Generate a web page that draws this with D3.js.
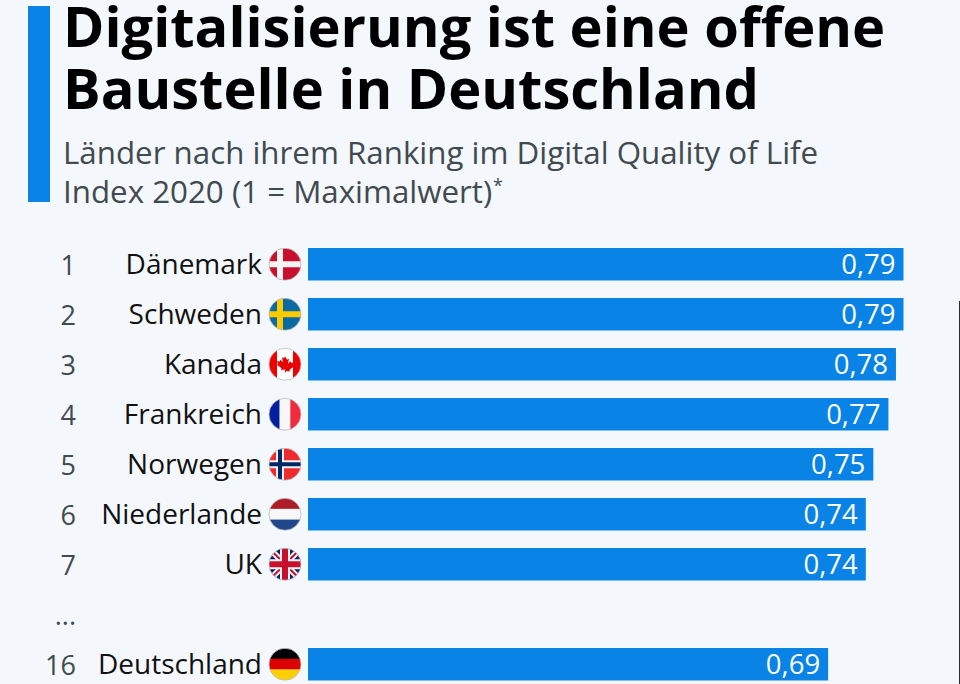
<!DOCTYPE html>
<html>
<head>
<meta charset="utf-8">
<script src="https://cdn.jsdelivr.net/npm/d3@7"></script>
<style>
html, body { margin: 0; padding: 0; background: #f4f8fc; overflow: hidden; }
text { font-family: "Open Sans", sans-serif; }
</style>
</head>
<body>
<div id="chart"></div>
<script>
var ranks = ["1", "2", "3", "4", "5", "6", "7", "...", "16"];
var countries = ["Dänemark", "Schweden", "Kanada", "Frankreich", "Norwegen", "Niederlande", "UK", "", "Deutschland"];
var values = [0.79, 0.79, 0.78, 0.77, 0.75, 0.74, 0.74, null, 0.69];
var flagIds = ["dk", "se", "ca", "fr", "no", "nl", "uk", "", "de"];

var titleLines = ["Digitalisierung ist eine offene", "Baustelle in Deutschland"];
var subtitleLines = ["Länder nach ihrem Ranking im Digital Quality of Life", "Index 2020 (1 = Maximalwert)"];

var width = 960;
var height = 684;
var blue = "#0a83e6";

var svg = d3.select("#chart").append("svg")
	.attr("width", width)
	.attr("height", height)
	.style("display", "block");

svg.append("rect")
	.attr("width", width)
	.attr("height", height)
	.attr("fill", "#f4f8fc");

// dark sliver down the right edge of the picture
svg.append("rect")
	.attr("x", 959)
	.attr("y", 301)
	.attr("width", 1)
	.attr("height", 383)
	.attr("fill", "#2a2c30");

// header
svg.append("rect")
	.attr("x", 28)
	.attr("y", 6)
	.attr("width", 22)
	.attr("height", 196)
	.attr("fill", blue);

svg.selectAll(".title")
	.data(titleLines)
	.enter()
	.append("text")
	.attr("class", "title")
	.attr("x", 63)
	.attr("y", function(d, i) { return 47 + i * 62; })
	.attr("font-size", 56)
	.attr("font-weight", 700)
	.attr("fill", "#000")
	.text(function(d) { return d; });

svg.selectAll(".subtitle")
	.data(subtitleLines)
	.enter()
	.append("text")
	.attr("class", "subtitle")
	.attr("x", 63)
	.attr("y", function(d, i) { return 164 + i * 39; })
	.attr("font-size", 31.3)
	.attr("fill", "#414a4f")
	.text(function(d) { return d; });

svg.append("text")
	.attr("x", 493)
	.attr("y", 192)
	.attr("font-size", 18)
	.attr("fill", "#414a4f")
	.text("*");

// scales
var xScale = d3.scaleLinear()
	.domain([0, 0.79])
	.range([308, 903.5]);

var yScale = d3.scaleBand()
	.domain(ranks)
	.range([239.25, 689.25])
	.paddingInner(0.35)
	.paddingOuter(0.175);

var yMid = function(i) { return yScale(ranks[i]) + yScale.bandwidth() / 2; };

// bars
var rows = ranks.map(function(r, i) {
	return { rank: r, country: countries[i], value: values[i], flag: flagIds[i], i: i };
});

svg.selectAll(".bar")
	.data(rows.filter(function(d) { return d.value !== null; }))
	.enter()
	.append("rect")
	.attr("class", "bar")
	.attr("x", xScale(0))
	.attr("y", function(d) { return yScale(d.rank); })
	.attr("width", function(d) { return xScale(d.value) - xScale(0); })
	.attr("height", yScale.bandwidth())
	.attr("fill", blue);

svg.selectAll(".val")
	.data(rows.filter(function(d) { return d.value !== null; }))
	.enter()
	.append("text")
	.attr("class", "val")
	.attr("x", function(d) { return xScale(d.value) - 8; })
	.attr("y", function(d) { return yMid(d.i) + 9.5; })
	.attr("text-anchor", "end")
	.attr("font-size", 27.5)
	.attr("fill", "#fff")
	.text(function(d) { return d3.format(".2f")(d.value).replace(".", ","); });

svg.selectAll(".rank")
	.data(rows)
	.enter()
	.append("text")
	.attr("class", "rank")
	.attr("x", 76)
	.attr("y", function(d) { return yMid(d.i) + 10.5; })
	.attr("text-anchor", "end")
	.attr("font-size", 27)
	.attr("fill", "#414a4f")
	.text(function(d) { return d.rank; });

svg.selectAll(".country")
	.data(rows)
	.enter()
	.append("text")
	.attr("class", "country")
	.attr("x", 262)
	.attr("y", function(d) { return yMid(d.i) + 9.5; })
	.attr("text-anchor", "end")
	.attr("font-size", 28)
	.attr("fill", "#111")
	.text(function(d) { return d.country; });

// flags, drawn in a 0-32 box and clipped to a circle
var defs = svg.append("defs");
defs.append("clipPath").attr("id", "flagClip")
	.append("circle").attr("cx", 16).attr("cy", 16).attr("r", 16);

function stripes(g, colors, vertical) {
	var n = colors.length;
	colors.forEach(function(c, i) {
		g.append("rect")
			.attr("x", vertical ? i * 32 / n : 0)
			.attr("y", vertical ? 0 : i * 32 / n)
			.attr("width", vertical ? 32 / n : 32)
			.attr("height", vertical ? 32 : 32 / n)
			.attr("fill", c);
	});
}

function nordic(g, bg, outer, inner) {
	g.append("rect").attr("width", 32).attr("height", 32).attr("fill", bg);
	g.append("path").attr("d", "M11 0V32M0 16H32").attr("stroke", outer).attr("stroke-width", inner ? 8 : 6).attr("fill", "none");
	if (inner) g.append("path").attr("d", "M11 0V32M0 16H32").attr("stroke", inner).attr("stroke-width", 4).attr("fill", "none");
}

var flagDraw = {
	dk: function(g) { nordic(g, "#c8102e", "#f4f4f4"); },
	se: function(g) { nordic(g, "#0b6aa2", "#fecb00"); },
	no: function(g) { nordic(g, "#ef2b2d", "#f4f4f4", "#002868"); },
	ca: function(g) {
		stripes(g, ["#f00000", "#fff", "#fff", "#f00000"], true);
		g.append("path")
			.attr("d", "M16 8l2 3.500 2-1-1 5 2.500-2.500 .8 1.700 2.700-.5-1 3 1 .8-4.500 3.500 .5 1.700-4-.5V24h-1v-2.800l-4 .5 .5-1.700L8 16.500l1-.8-1-3 2.700 .5 .8-1.700L14 14l-1-5 2 1z")
			.attr("fill", "#e60000");
	},
	fr: function(g) { stripes(g, ["#00209f", "#f7f7f7", "#ef2b3c"], true); },
	nl: function(g) { stripes(g, ["#ae1c28", "#f7f7f7", "#21468b"], false); },
	de: function(g) { stripes(g, ["#000", "#dd0000", "#ffce00"], false); },
	uk: function(g) {
		g.append("rect").attr("width", 32).attr("height", 32).attr("fill", "#012169");
		g.append("path").attr("d", "M0 0L32 32M32 0L0 32").attr("stroke", "#f4f4f4").attr("stroke-width", 6);
		g.append("path").attr("d", "M0 0L32 32M32 0L0 32").attr("stroke", "#c8102e").attr("stroke-width", 2);
		g.append("path").attr("d", "M16 0V32M0 16H32").attr("stroke", "#f4f4f4").attr("stroke-width", 10);
		g.append("path").attr("d", "M16 0V32M0 16H32").attr("stroke", "#c8102e").attr("stroke-width", 6);
	}
};

rows.filter(function(d) { return d.flag; }).forEach(function(d) {
	var g = svg.append("g")
		.attr("transform", "translate(269," + (yMid(d.i) - 16) + ")");
	var inner = g.append("g").attr("clip-path", "url(#flagClip)");
	flagDraw[d.flag](inner);
	g.append("circle")
		.attr("cx", 16).attr("cy", 16).attr("r", 16)
		.attr("fill", "none")
		.attr("stroke", "#bbb")
		.attr("stroke-width", 0.8);
});
</script>
</body>
</html>
